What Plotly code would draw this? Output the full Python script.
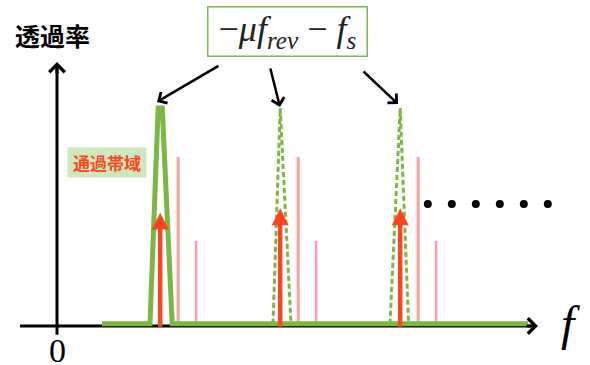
import plotly.graph_objects as go

# ---- data (frequency f in arbitrary units, transmission in arbitrary units) ----
peak_apex = [8.6, 18.6, 28.6]          # centres of the transmission peaks
peak_left = [7.75, 18.0, 27.75]        # foot of the peaks (left)
peak_right = [9.6, 19.5, 29.3]         # foot of the peaks (right)
peak_height = [1.0, 1.0, 1.0]
baseline_f = [3.75, 39.25]
baseline_level = 0.01

signal_f = [8.6, 18.6, 28.6]           # red arrows (signal lines)
signal_height = [0.52, 0.54, 0.54]

pink_tall_f = [10.1, 20.1, 30.1]
pink_tall_h = [0.775, 0.775, 0.775]
pink_short_f = [11.6, 21.6, 31.6]
pink_short_h = [0.39, 0.39, 0.39]

dots_f = [30.9, 32.9, 34.9, 36.9, 38.9, 40.9]
dots_level = [0.56] * 6

XRANGE = [-4.75, 44.4167]
YRANGE = [-0.1789, 1.4954]

GREEN = "#78b843"
PINK = "#ffa0a0"
RED = "#ff4520"

fig = go.Figure()

# x axis line (black, under the green baseline)
fig.add_trace(go.Scatter(x=[-3.08, 39.5], y=[0, 0], mode="lines",
                         line=dict(color="black", width=3), hoverinfo="skip"))
# y axis line
fig.add_trace(go.Scatter(x=[0, 0], y=[-0.04, 1.19], mode="lines",
                         line=dict(color="black", width=3), hoverinfo="skip"))

# pink lines
def vlines(xs, hs):
    X, Y = [], []
    for x, h in zip(xs, hs):
        X += [x, x, None]
        Y += [0, h, None]
    return X, Y

px_, py_ = vlines(pink_tall_f, pink_tall_h)
fig.add_trace(go.Scatter(x=px_, y=py_, mode="lines",
                         line=dict(color=PINK, width=3), hoverinfo="skip"))
px_, py_ = vlines(pink_short_f, pink_short_h)
fig.add_trace(go.Scatter(x=px_, y=py_, mode="lines",
                         line=dict(color=PINK, width=2.5), hoverinfo="skip"))

# green baseline + first (solid) passband
half = 0.17
fig.add_trace(go.Scatter(
    x=[baseline_f[0], peak_left[0], peak_apex[0] - half, peak_apex[0] + half,
       peak_right[0], baseline_f[1]],
    y=[baseline_level, baseline_level, peak_height[0], peak_height[0],
       baseline_level, baseline_level],
    mode="lines", line=dict(color=GREEN, width=5), hoverinfo="skip"))

# dashed passbands
for i in (1, 2):
    fig.add_trace(go.Scatter(
        x=[peak_left[i], peak_apex[i], peak_right[i]],
        y=[baseline_level, peak_height[i], baseline_level],
        mode="lines", line=dict(color=GREEN, width=3, dash="5px,3px"),
        hoverinfo="skip"))

# dots
fig.add_trace(go.Scatter(x=dots_f, y=dots_level, mode="markers",
                         marker=dict(color="black", size=8), hoverinfo="skip"))

ann = []
# red signal arrows
for x, h in zip(signal_f, signal_height):
    ann.append(dict(x=x, y=h, ax=x, ay=-0.01, xref="x", yref="y",
                    axref="x", ayref="y", showarrow=True, arrowhead=2,
                    arrowsize=0.75, arrowwidth=4.5, arrowcolor=RED, text=""))

# axis arrowheads
ann.append(dict(x=0, y=1.211, ax=0, ay=1.15, xref="x", yref="y", axref="x",
                ayref="y", showarrow=True, arrowhead=4, arrowsize=1,
                arrowwidth=3, arrowcolor="black", text=""))
ann.append(dict(x=40.08, y=0, ax=39.0, ay=0, xref="x", yref="y", axref="x",
                ayref="y", showarrow=True, arrowhead=4, arrowsize=1,
                arrowwidth=3, arrowcolor="black", text=""))

# pointer arrows from the label
for (tx, ty), (hx, hy) in [((13.58, 1.197), (8.33, 1.028)),
                           ((17.75, 1.188), (18.58, 1.005)),
                           ((25.42, 1.174), (28.42, 1.018))]:
    ann.append(dict(x=hx, y=hy, ax=tx, ay=ty, xref="x", yref="y", axref="x",
                    ayref="y", showarrow=True, arrowhead=4, arrowsize=1,
                    arrowwidth=2.5, arrowcolor="black", text=""))

# label box
ann.append(dict(x=19.17, y=1.353, xref="x", yref="y", showarrow=False,
                text="−<i>μf</i><sub><i>rev</i></sub> − <i>f</i><sub><i>s</i></sub>",
                font=dict(family="Liberation Serif", size=36, color="#222"),
                bgcolor="white", bordercolor="#7ab648", borderwidth=1.5,
                borderpad=2, width=154, height=44))

# texts
ann.append(dict(x=0.022, y=1 - 35 / 365, xref="paper", yref="paper",
                showarrow=False, xanchor="left", yanchor="middle",
                text="<b>透過率</b>",
                font=dict(family="Noto Sans CJK JP", size=25, color="black")))
ann.append(dict(x=(107 - 57) / 12, y=(326 - 162) / 218, xref="x", yref="y",
                showarrow=False, text="<b>通過帯域</b>",
                font=dict(family="Noto Sans CJK JP", size=17, color=RED),
                bgcolor="#cde8bc", width=76, height=27))
ann.append(dict(x=0, y=-0.113, xref="x", yref="y", showarrow=False, text="0",
                font=dict(family="Liberation Serif", size=34, color="black")))
ann.append(dict(x=(570 - 57) / 12, y=0.01, xref="x", yref="y", showarrow=False,
                text="<i>f</i>",
                font=dict(family="Liberation Serif", size=48, color="black")))

fig.update_layout(
    width=590, height=365, autosize=False,
    margin=dict(l=0, r=0, t=0, b=0),
    paper_bgcolor="white", plot_bgcolor="white",
    showlegend=False,
    xaxis=dict(range=XRANGE, visible=False, fixedrange=True),
    yaxis=dict(range=YRANGE, visible=False, fixedrange=True),
    annotations=ann,
)

fig.write_html("out.html", config={"displayModeBar": False},
               post_script="document.body.style.margin='0';document.body.style.overflow='hidden';")
